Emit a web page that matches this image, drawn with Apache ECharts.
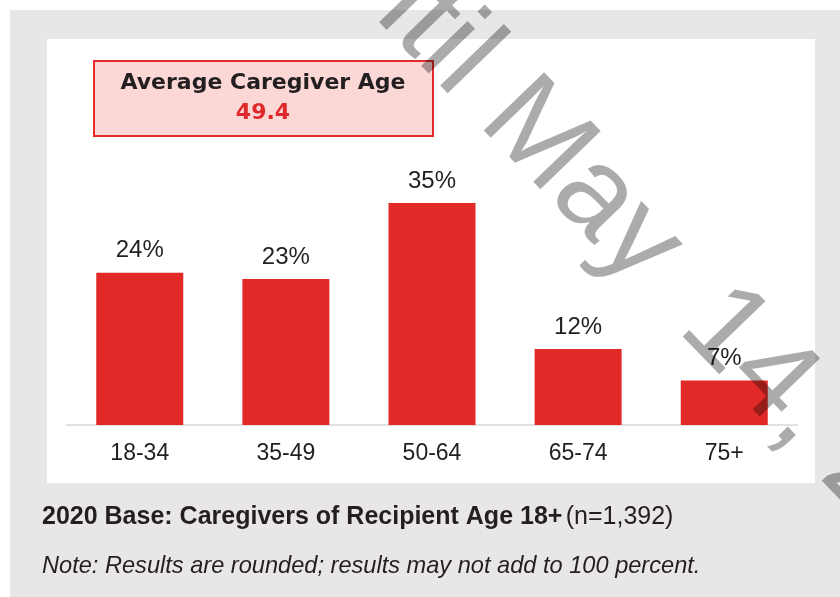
<!DOCTYPE html>
<html>
<head>
<meta charset="UTF-8">
<title>Caregiver age</title>
<script src="https://cdn.jsdelivr.net/npm/echarts@6/dist/echarts.min.js"></script>
<style>
  html, body { margin: 0; padding: 0; background: #fff; }
</style>
</head>
<body>
<div id="main" style="width:840px;height:597px"></div>
<script type="text/javascript">
// data
var ageGroups = ['18-34', '35-49', '50-64', '65-74', '75+'];
var sharePct = [24, 23, 35, 12, 7];
var avgAge = '49.4';
var boxTitle = 'Average Caregiver Age';
var baseText = '2020 Base: Caregivers of Recipient Age 18+';
var baseN = '(n=1,392)';
var noteText = 'Note: Results are rounded; results may not add to 100 percent.';

var RED = '#e12a27';
var INK = '#231f20';
var FONT = 'Liberation Sans, Arial, sans-serif';

var myChart = echarts.init(document.getElementById('main'));

// watermark: runs down-right at ~46 deg
var angle = 46;
var rot = -angle * Math.PI / 180;
var wmX = 501, wmY = 100;          // start of "May"
var wmGap = 287;                    // distance along the line to "14"
var dx = Math.cos(angle * Math.PI / 180) * wmGap;
var dy = Math.sin(angle * Math.PI / 180) * wmGap;
var wmStyle = function (txt, align) {
  return { text: txt, fill: 'rgba(0,0,0,0.33)', font: '122px ' + FONT, align: align, verticalAlign: 'middle' };
};

var option = {
  backgroundColor: '#ffffff',
  animation: false,
  grid: { left: 66.7, right: 42.7, top: 171.3, bottom: 172 },
  xAxis: {
    type: 'category',
    data: ageGroups,
    axisLine: { lineStyle: { color: '#d9d9d9', width: 1.5 } },
    axisTick: { show: false },
    axisLabel: { color: INK, fontSize: 23, fontFamily: FONT, margin: 17 }
  },
  yAxis: {
    type: 'value',
    min: 0,
    max: 40,
    show: false,
    splitLine: { show: false }
  },
  series: [{
    type: 'bar',
    data: sharePct,
    barWidth: 87,
    itemStyle: { color: RED },
    label: {
      show: true,
      position: 'top',
      distance: 10,
      formatter: '{c}%',
      color: INK,
      fontSize: 24,
      fontFamily: FONT
    },
    z: 2
  }],
  graphic: [
    // grey frame + white panel
    { type: 'rect', z: -20, shape: { x: 10, y: 10, width: 840, height: 597 }, style: { fill: '#e8e7e5' } },
    { type: 'rect', z: -19, shape: { x: 47, y: 39, width: 768, height: 444 }, style: { fill: '#ffffff' } },
    // average age box
    { type: 'rect', z: 5, shape: { x: 94, y: 61, width: 339, height: 75 },
      style: { fill: '#fbd7d5', stroke: '#e22b2a', lineWidth: 2 } },
    { type: 'text', z: 6, x: 263, y: 83,
      style: { text: boxTitle, fill: INK, font: 'bold 22px DejaVu Sans', align: 'center', verticalAlign: 'middle' } },
    { type: 'text', z: 6, x: 263, y: 113,
      style: { text: avgAge, fill: '#e0282a', font: 'bold 22px DejaVu Sans', align: 'center', verticalAlign: 'middle' } },
    // footer
    { type: 'text', z: 6, x: 42, y: 517,
      style: {
        text: '{b|' + baseText + '} {n|' + baseN + '}',
        verticalAlign: 'middle',
        rich: {
          b: { font: 'bold 25px ' + FONT, fill: INK },
          n: { font: '25px ' + FONT, fill: INK }
        }
      } },
    { type: 'text', z: 6, x: 42, y: 566,
      style: { text: noteText, fill: INK, font: 'italic 23.6px ' + FONT, verticalAlign: 'middle' } },
    // diagonal watermark
    { type: 'text', z: 100, x: wmX, y: wmY, rotation: rot, style: wmStyle('until ', 'right') },
    { type: 'text', z: 100, x: wmX, y: wmY, rotation: rot, style: wmStyle('May', 'left') },
    { type: 'text', z: 100, x: wmX + dx, y: wmY + dy, rotation: rot, style: wmStyle('14, 2020', 'left') }
  ]
};

myChart.setOption(option);
</script>
</body>
</html>
